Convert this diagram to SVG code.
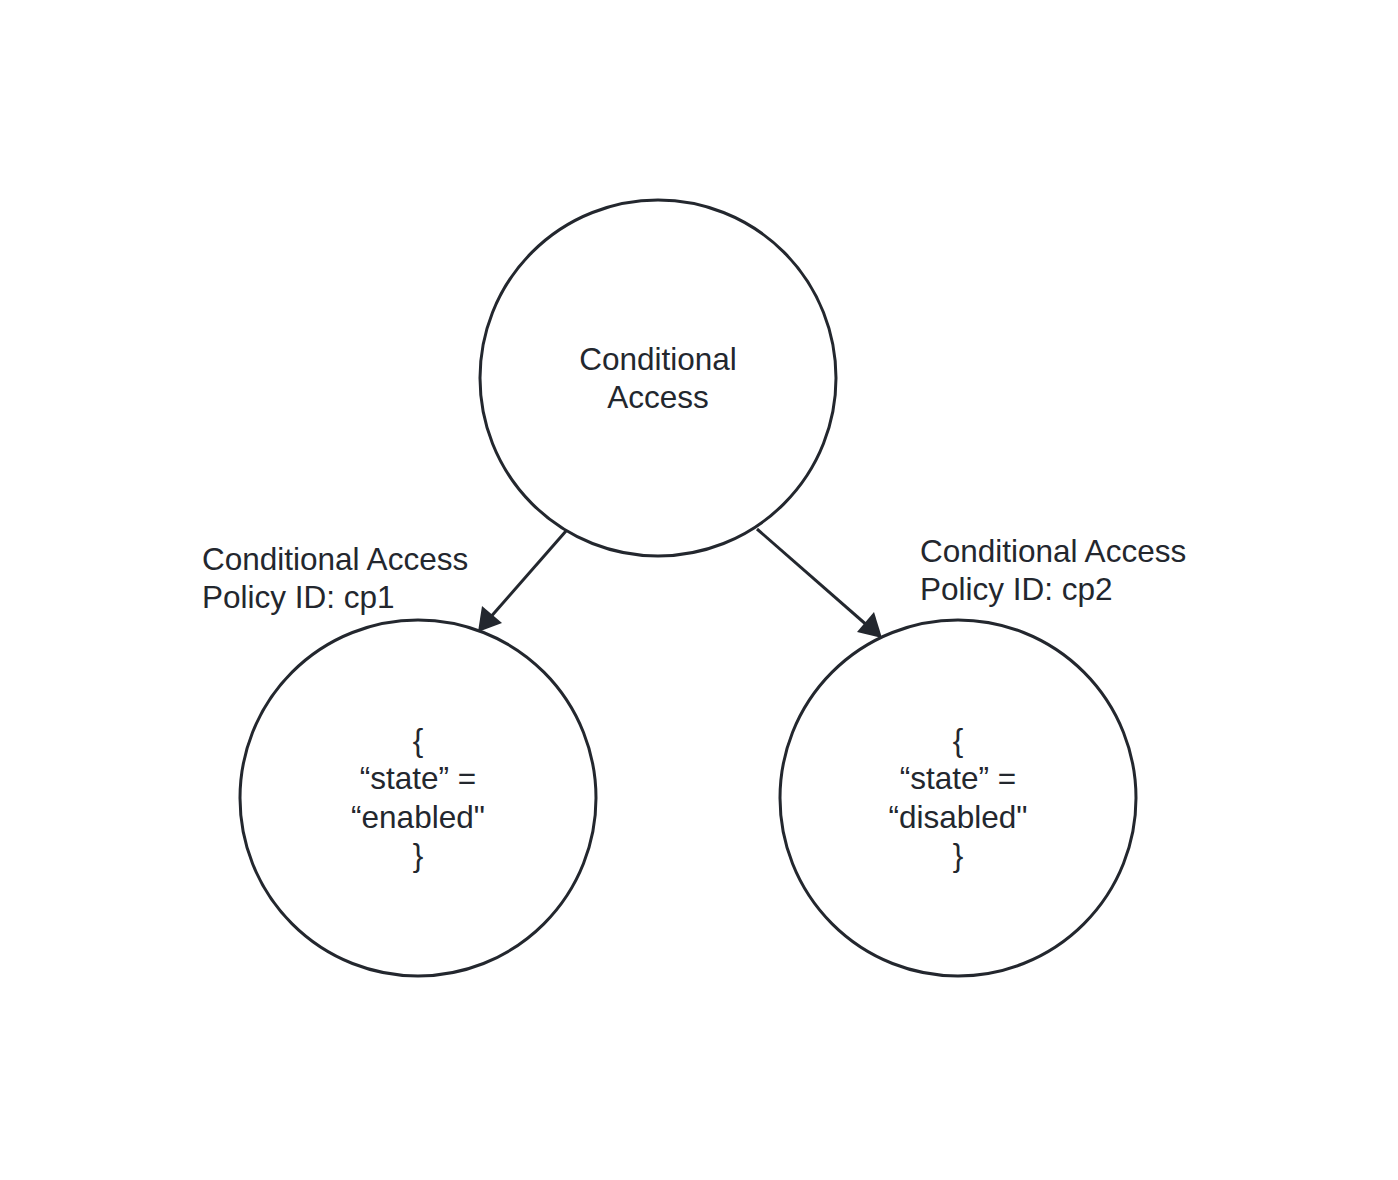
<svg xmlns="http://www.w3.org/2000/svg" width="1398" height="1180" viewBox="0 0 1398 1180">
<style>
.node{fill:#fff;stroke:#23272e;stroke-width:3}
.t{font-family:"Liberation Sans",Arial,sans-serif;font-size:31.5px;fill:#23272e}
.c{text-anchor:middle}
.edge{stroke:#23272e;stroke-width:3;fill:none}
</style>
<rect width="1398" height="1180" fill="#fff"/>
<g id="connectors">
<line class="edge" x1="566" y1="531" x2="481" y2="628"/>
<path d="M478,632 L482,606 L502,623 z" fill="#23272e"/>
<line class="edge" x1="757" y1="529" x2="877" y2="634"/>
<path d="M882,638 L857,632 L874,612 z" fill="#23272e"/>
</g>
<g id="node-ca">
<circle class="node" cx="658" cy="378" r="178"/>
<text class="t c" x="658" y="370">Conditional</text>
<text class="t c" x="658" y="408">Access</text>
</g>
<g id="label-cp1">
<text class="t" x="202" y="570">Conditional Access</text>
<text class="t" x="202" y="608">Policy ID: cp1</text>
</g>
<g id="label-cp2">
<text class="t" x="920" y="562">Conditional Access</text>
<text class="t" x="920" y="600">Policy ID: cp2</text>
</g>
<g id="node-cp1">
<circle class="node" cx="418" cy="798" r="178"/>
<text class="t c" x="418" y="751">{</text>
<text class="t c" x="418" y="789">“state” =</text>
<text class="t c" x="418" y="828">“enabled"</text>
<text class="t c" x="418" y="866">}</text>
</g>
<g id="node-cp2">
<circle class="node" cx="958" cy="798" r="178"/>
<text class="t c" x="958" y="751">{</text>
<text class="t c" x="958" y="789">“state” =</text>
<text class="t c" x="958" y="828">“disabled"</text>
<text class="t c" x="958" y="866">}</text>
</g>
</svg>
